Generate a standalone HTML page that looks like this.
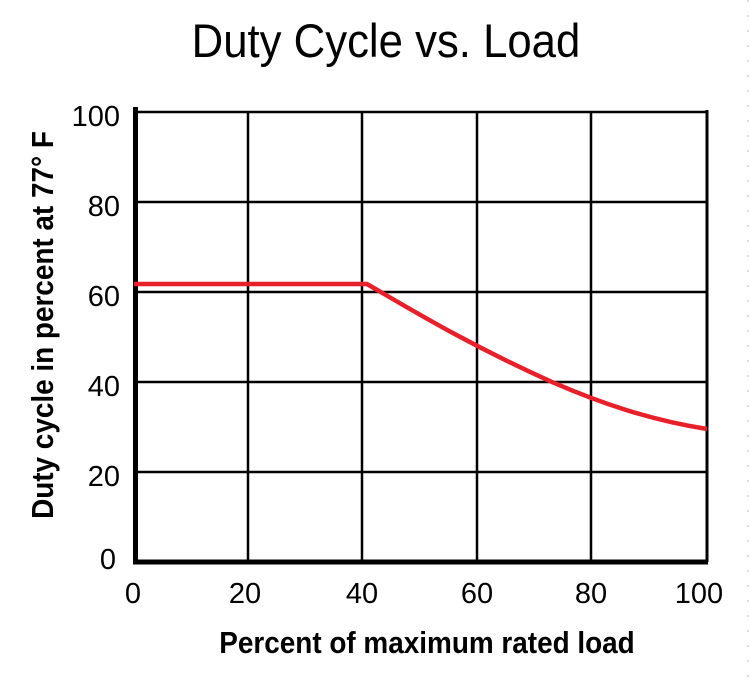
<!DOCTYPE html>
<html><head><style>
body{margin:0;background:#fff;}
svg{display:block;}
</style></head><body>
<svg width="750" height="690" xmlns="http://www.w3.org/2000/svg" font-family="Liberation Sans, sans-serif">
<rect width="750" height="690" fill="#fff"/>
<line x1="748" y1="0" x2="748" y2="690" stroke="#bbb" stroke-width="1" stroke-dasharray="2,13"/>
<text x="386" y="57" font-size="47" text-anchor="middle" transform="scale(0.93,1)" transform-origin="386 57">Duty Cycle vs. Load</text>
<g stroke="#000" stroke-width="2.5">
<line x1="134" y1="112" x2="707" y2="112"/>
<line x1="134" y1="202" x2="707" y2="202"/>
<line x1="134" y1="292" x2="707" y2="292"/>
<line x1="134" y1="382" x2="707" y2="382"/>
<line x1="134" y1="472" x2="707" y2="472"/>
<line x1="248" y1="112" x2="248" y2="562"/>
<line x1="362" y1="112" x2="362" y2="562"/>
<line x1="477" y1="112" x2="477" y2="562"/>
<line x1="591" y1="112" x2="591" y2="562"/>
<line x1="707" y1="110" x2="707" y2="562" stroke-width="3"/>
</g>
<line x1="135.5" y1="107" x2="135.5" y2="564" stroke="#000" stroke-width="5"/>
<line x1="133" y1="562" x2="708" y2="562" stroke="#000" stroke-width="5"/>
<path d="M134 284 L367 284 C420 315 470 345 552 382 C600 403 650 420 707 429" fill="none" stroke="#e8202a" stroke-width="4.5"/>
<g font-size="29" text-anchor="end">
<text x="120" y="126">100</text>
<text x="120" y="216">80</text>
<text x="120" y="306">60</text>
<text x="120" y="396">40</text>
<text x="120" y="486">20</text>
<text x="116" y="569">0</text>
</g>
<g font-size="29" text-anchor="middle">
<text x="133" y="603">0</text>
<text x="245" y="603">20</text>
<text x="362" y="603">40</text>
<text x="477" y="603">60</text>
<text x="591" y="603">80</text>
<text x="699" y="603">100</text>
</g>
<text x="0" y="0" font-size="31" font-weight="bold" text-anchor="middle" transform="translate(427,653) scale(0.9,1)">Percent of maximum rated load</text>
<text x="0" y="0" font-size="31" font-weight="bold" text-anchor="middle" transform="translate(53,325) rotate(-90) scale(0.9,1)">Duty cycle in percent at 77° F</text>
</svg>
</body></html>
